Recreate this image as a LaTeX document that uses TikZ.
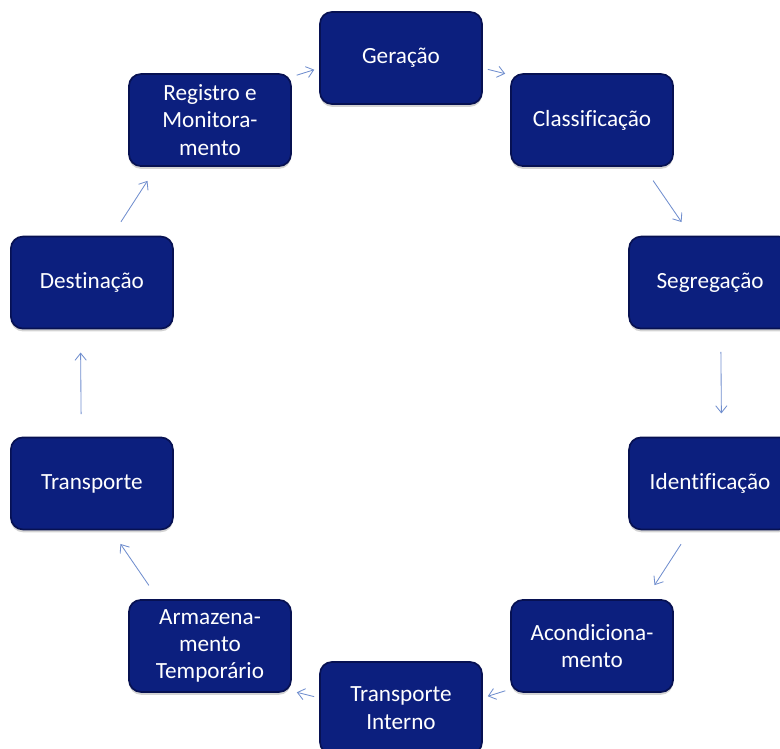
\documentclass[tikz,border=0pt]{standalone}
\usepackage{fontspec}
\setmainfont{Carlito}[Ligatures=NoCommon]
\usetikzlibrary{arrows.meta,shadows}

\definecolor{boxblue}{RGB}{12,31,126}
\definecolor{boxedge}{RGB}{7,17,82}
\definecolor{arrowblue}{RGB}{112,142,206}

\begin{document}
\begin{tikzpicture}[x=0.025cm, y=0.025cm,
	stage/.style={draw=boxedge, line width=1.2pt, fill=boxblue, rounded corners=0.3cm,
		minimum width=4.05cm, minimum height=2.3cm, outer sep=0pt, inner sep=2pt,
		align=center, text=white, font=\fontsize{16.5}{19.5}\selectfont,
		drop shadow={shadow xshift=0pt, shadow yshift=-2pt, opacity=0.35}},
	flow/.style={draw=arrowblue, line width=0.6pt, -{Straight Barb[length=5pt,width=8pt]}},
	gapC/.style={shorten <=0.15cm, shorten >=0.15cm},
	gapB/.style={shorten <=0.44cm, shorten >=0.44cm},
	gapA/.style={shorten <=0.58cm, shorten >=0.6cm}]
	\useasboundingbox (-401,-365) rectangle (379,383);

	% the ten stages, clockwise from the top
	\node[stage] (ger) at (90:325)   {Geração};
	\node[stage] (cla) at (54:325)   {Classificação};
	\node[stage] (seg) at (18:325)   {Segregação};
	\node[stage] (ide) at (-18:325)  {Identificação};
	\node[stage] (aco) at (-54:325)  {Acondiciona-\\mento};
	\node[stage] (tin) at (-90:325)  {Transporte\\Interno};
	\node[stage] (arm) at (-126:325) {Armazena-\\mento\\Temporário};
	\node[stage] (tra) at (-162:325) {Transporte};
	\node[stage] (des) at (162:325)  {Destinação};
	\node[stage] (reg) at (126:325)  {Registro e\\Monitora-\\mento};

	% arrows round the cycle
	\draw[flow, gapC] (reg.28.2)  -- (ger.187);
	\draw[flow, gapC] (ger.353)   -- (cla.151.8);
	\draw[flow, gapB] (cla.318.5) -- (seg.112.4);
	\draw[flow, gapA] (seg.283.4) -- (ide.76.6);
	\draw[flow, gapB] (ide.247.6) -- (aco.41.5);
	\draw[flow, gapC] (aco.208.2) -- (tin.7);
	\draw[flow, gapC] (tin.173)   -- (arm.331.8);
	\draw[flow, gapB] (arm.138.5) -- (tra.292.4);
	\draw[flow, gapA] (tra.103.4) -- (des.256.6);
	\draw[flow, gapB] (des.67.6)  -- (reg.221.5);
\end{tikzpicture}
\end{document}
